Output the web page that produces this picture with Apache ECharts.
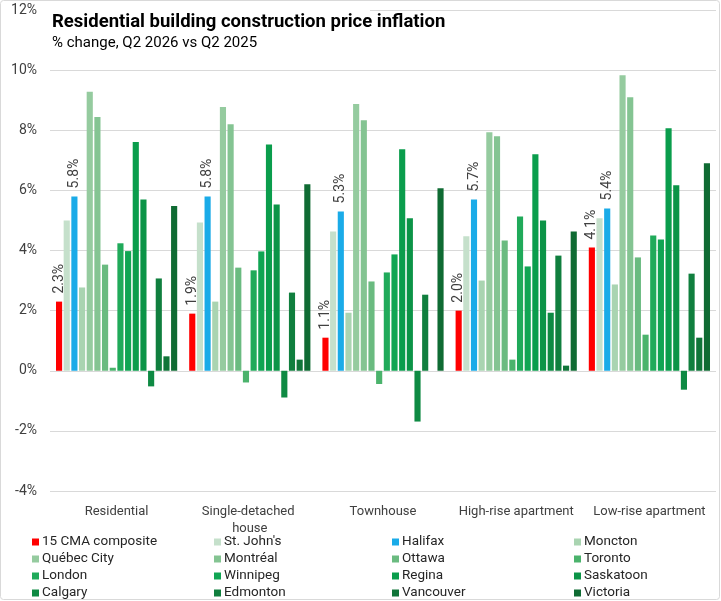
<!DOCTYPE html>
<html>
<head>
<meta charset="utf-8">
<script src="https://cdn.jsdelivr.net/npm/echarts@6/dist/echarts.min.js"></script>
<style>
html,body{margin:0;padding:0;background:#fff;}
#chart{width:721px;height:601px;}
</style>
</head>
<body>
<div id="chart"></div>
<script>
var categories = ['Residential', 'Single-detached house', 'Townhouse', 'High-rise apartment', 'Low-rise apartment'];
var yTicks = { min: -4, max: 12, interval: 2 };

var cmaComposite = [2.3, 1.9, 1.1, 2.0, 4.1];
var stJohns     = [5.0, 4.93, 4.63, 4.47, 5.07];
var halifax     = [5.8, 5.8, 5.3, 5.7, 5.4];
var moncton     = [2.77, 2.3, 1.93, 3.0, 2.87];
var quebecCity  = [9.28, 8.77, 8.87, 7.93, 9.83];
var montreal    = [8.44, 8.2, 8.33, 7.8, 9.1];
var ottawa      = [3.53, 3.43, 2.97, 4.33, 3.77];
var toronto     = [0.1, -0.39, -0.44, 0.37, 1.2];
var london      = [4.24, 3.34, 3.27, 5.13, 4.5];
var winnipeg    = [3.98, 3.97, 3.87, 3.47, 4.37];
var regina      = [7.61, 7.53, 7.37, 7.2, 8.07];
var saskatoon   = [5.7, 5.53, 5.07, 5.0, 6.17];
var calgary     = [-0.52, -0.89, -1.69, 1.93, -0.63];
var edmonton    = [3.07, 2.6, 2.53, 3.83, 3.23];
var vancouver   = [0.48, 0.37, 0, 0.17, 1.1];
var victoria    = [5.48, 6.2, 6.07, 4.63, 6.9];

var seriesNames = ['15 CMA composite', "St. John's", 'Halifax', 'Moncton', 'Québec City', 'Montréal', 'Ottawa', 'Toronto',
  'London', 'Winnipeg', 'Regina', 'Saskatoon', 'Calgary', 'Edmonton', 'Vancouver', 'Victoria'];
var seriesValues = [cmaComposite, stJohns, halifax, moncton, quebecCity, montreal, ottawa, toronto,
  london, winnipeg, regina, saskatoon, calgary, edmonton, vancouver, victoria];
var seriesColors = ['#FF0000', '#C5E0CB', '#1AABE8', '#A9D4B1', '#95CB9F', '#84C492', '#6ABB80', '#4BB36C',
  '#20AA5A', '#10A553', '#0A9D4C', '#0B9447', '#0E8A43', '#107F3E', '#107539', '#0F6B33'];
var labelledSeries = ['15 CMA composite', 'Halifax'];

var FONT = 'Roboto, "Liberation Sans", sans-serif';

var series = seriesNames.map(function (name, i) {
  var s = {
    name: name,
    type: 'bar',
    data: seriesValues[i],
    itemStyle: { color: seriesColors[i] },
    barGap: '25%',
    barCategoryGap: '9%'
  };
  if (labelledSeries.indexOf(name) >= 0) {
    s.label = {
      show: true,
      position: 'top',
      rotate: 90,
      align: 'left',
      verticalAlign: 'middle',
      distance: 8,
      fontSize: 14,
      fontFamily: FONT,
      color: '#404040',
      formatter: function (p) { return p.value.toFixed(1) + '%'; }
    };
  }
  return s;
});

var legendCols = [[0, 4, 8, 12], [1, 5, 9, 13], [2, 6, 10, 14], [3, 7, 11, 15]];
var legendLeft = [32, 214, 392, 574];
var legends = legendCols.map(function (col, c) {
  return {
    orient: 'vertical',
    left: legendLeft[c],
    top: 535,
    padding: 0,
    itemWidth: 7,
    itemHeight: 7,
    itemGap: 3,
    icon: 'rect',
    selectedMode: false,
    data: col.map(function (i) { return seriesNames[i]; }),
    textStyle: { fontSize: 13.5, fontFamily: FONT, color: '#262626', padding: [0, 0, 0, -2], lineHeight: 14 }
  };
});

var chart = echarts.init(document.getElementById('chart'), null, { renderer: 'canvas' });
chart.setOption({
  animation: false,
  backgroundColor: '#fff',
  textStyle: { fontFamily: FONT },
  graphic: [
    { type: 'rect', shape: { x: 0.5, y: 0.5, width: 719, height: 599, r: 3 }, style: { fill: 'none', stroke: '#d9d9d9', lineWidth: 1 }, silent: true, z: 100 },
    { type: 'rect', shape: { x: 48, y: 6, width: 322, height: 8 }, style: { fill: '#fff' }, silent: true, z: 50 }
  ],
  title: {
    left: 52,
    top: 13,
    padding: 0,
    itemGap: 4,
    text: 'Residential building construction price inflation',
    subtext: '% change, Q2 2026 vs Q2 2025',
    textStyle: { fontSize: 18.5, fontWeight: 'bold', color: '#000', fontFamily: FONT },
    subtextStyle: { fontSize: 15, color: '#000', fontFamily: FONT },
    z: 60
  },
  legend: legends,
  grid: { left: 50, right: 5, top: 10, bottom: 110, containLabel: false },
  xAxis: {
    type: 'category',
    data: categories,
    axisLine: { show: false },
    axisTick: { show: false },
    axisLabel: {
      margin: 12,
      fontSize: 13,
      lineHeight: 17,
      color: '#404040',
      fontFamily: FONT,
      width: 128,
      overflow: 'break',
      interval: 0
    }
  },
  yAxis: {
    type: 'value',
    min: yTicks.min,
    max: yTicks.max,
    interval: yTicks.interval,
    axisLine: { show: false },
    axisTick: { show: false },
    axisLabel: { formatter: '{value}%', fontSize: 14, color: '#404040', margin: 13, fontFamily: FONT },
    splitLine: { lineStyle: { color: '#d9d9d9', width: 1 } }
  },
  series: series
});
</script>
</body>
</html>
